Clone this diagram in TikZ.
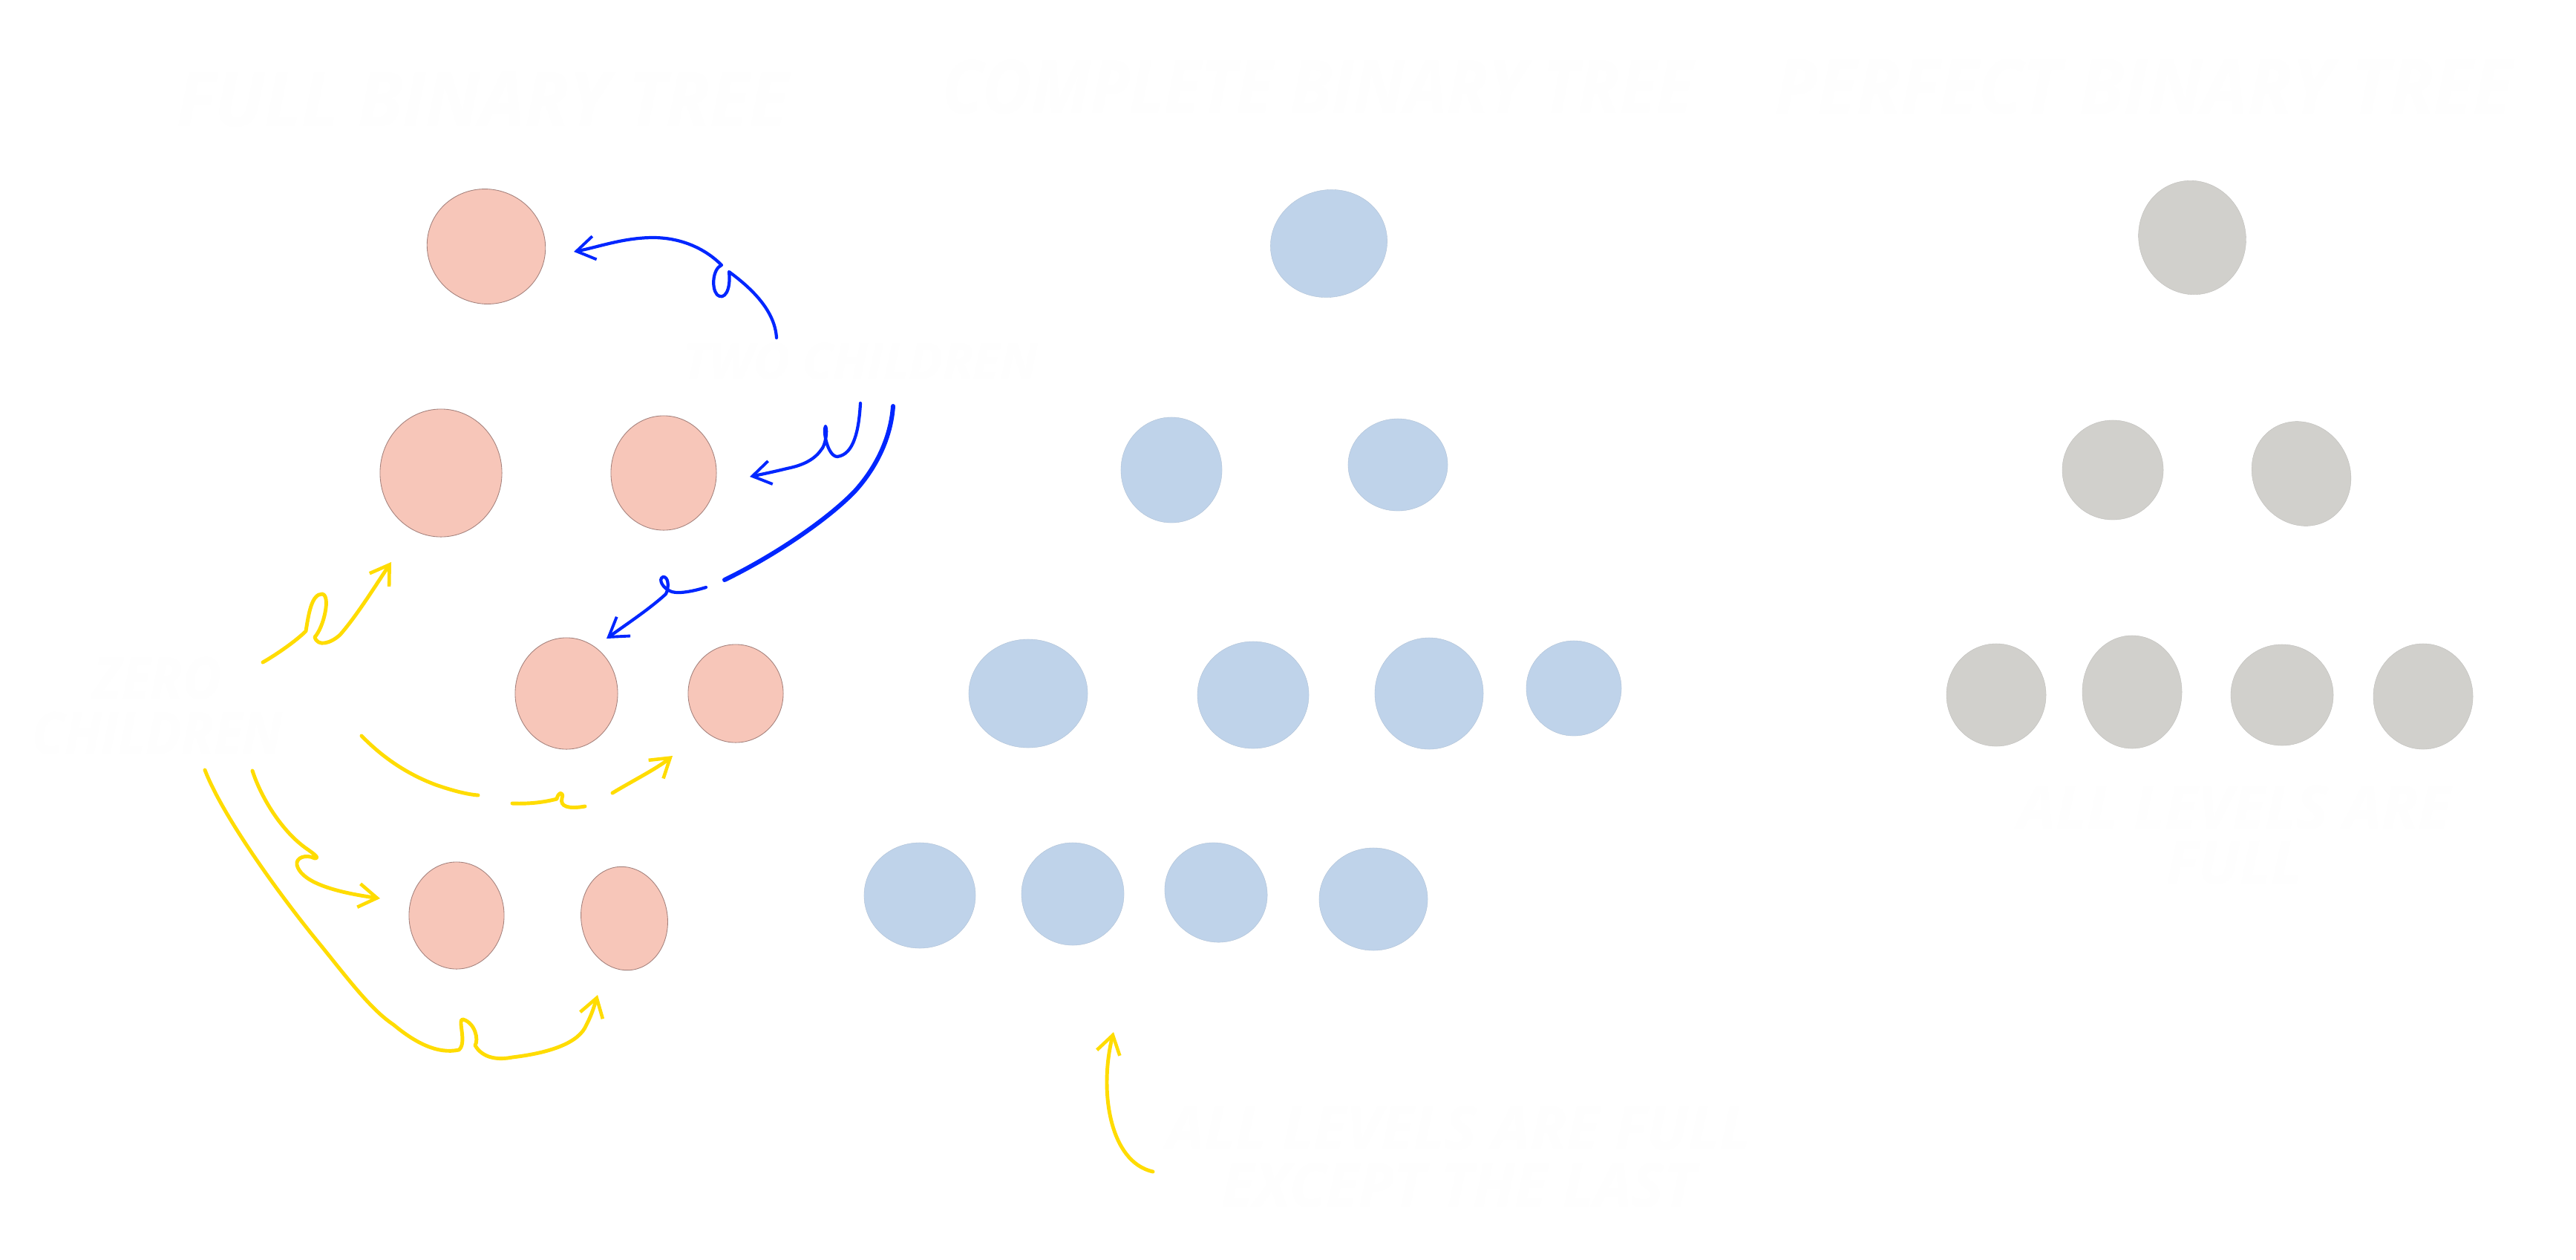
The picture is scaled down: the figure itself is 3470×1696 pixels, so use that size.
\documentclass[tikz,border=0pt]{standalone}
\usepackage{fontspec}
\setmainfont{Open Sans}
\usetikzlibrary{arrows.meta,shapes.geometric}
\definecolor{pinkfill}{RGB}{247,198,185}
\definecolor{pinkline}{RGB}{165,130,125}
\definecolor{bluefill}{RGB}{191,211,234}
\definecolor{grayfill}{RGB}{209,208,204}
\definecolor{penblue}{RGB}{0,38,255}
\definecolor{penyellow}{RGB}{255,220,0}
\definecolor{ghost}{RGB}{254,254,254}
\begin{document}
\begin{tikzpicture}[x=0.01cm,y=-0.01cm,
  sz/.style 2 args={minimum width=#1*0.02cm, minimum height=#2*0.02cm},
  pnode/.style={ellipse, fill=pinkfill, draw=pinkline, line width=0.25pt, inner sep=0pt},
  bnode/.style={ellipse, fill=bluefill, draw=bluefill!90!black, line width=0.1pt, inner sep=0pt},
  gnode/.style={ellipse, fill=grayfill, draw=grayfill!90!black, line width=0.1pt, inner sep=0pt},
  lab/.style={text=ghost, font=\bfseries\itshape, align=center, inner sep=0pt},
  bpen/.style={draw=penblue, line width=1.2pt, line cap=round, line join=round},
  ypen/.style={draw=penyellow, line width=1.4pt, line cap=round, line join=round},
  btip/.style={-{Straight Barb[length=7pt,width=9pt,line width=1.1pt]}},
  ytip/.style={-{Straight Barb[length=7pt,width=9pt,line width=1.3pt]}}
]
\useasboundingbox[fill=white] (0,0) rectangle (3470,1696);

% titles and labels
\node[lab, font=\bfseries\itshape\fontsize{29}{29}\selectfont] (t1) at (650,134) {\scalebox{0.95}[1]{FULL BINARY TREE}};
\node[lab, font=\bfseries\itshape\fontsize{28}{28}\selectfont] (t2) at (1775,117) {\scalebox{0.92}[1]{COMPLETE BINARY TREE}};
\node[lab, font=\bfseries\itshape\fontsize{29}{29}\selectfont] (t3) at (2888,117) {\scalebox{0.955}[1]{PERFECT BINARY TREE}};
\node[lab, font=\bfseries\itshape\fontsize{19}{19}\selectfont] (two) at (1159,487) {TWO CHILDREN};
\node[lab, font=\bfseries\itshape\fontsize{22}{21}\selectfont] (zero) at (212,951) {\scalebox{0.92}[1]{ZERO}\\\scalebox{0.92}[1]{CHILDREN}};
\node[lab, font=\bfseries\itshape\fontsize{23}{22}\selectfont] (allc) at (1965,1558) {ALL LEVELS ARE FULL\\EXCEPT THE LAST};
\node[lab, font=\bfseries\itshape\fontsize{23}{21}\selectfont] (allp) at (3010,1125) {ALL LEVELS ARE\\FULL};

% full binary tree (pink)
\node[pnode, sz={80}{77}, rotate=-20] (P1) at (655,332) {};
\node[pnode, sz={82}{86}] (P2) at (594,637) {};
\node[pnode, sz={71}{77}] (P3) at (894,637) {};
\node[pnode, sz={69}{75}] (P4) at (763,934) {};
\node[pnode, sz={64}{66}] (P5) at (991,934) {};
\node[pnode, sz={64}{72}] (P6) at (615,1233) {};
\node[pnode, sz={58}{70}, rotate=10] (P7) at (841,1237) {};

% complete binary tree (blue)
\node[bnode, sz={79}{72}, rotate=15] (B1) at (1790,328) {};
\node[bnode, sz={68}{71}] (B2) at (1578,633) {};
\node[bnode, sz={67}{62}] (B3) at (1883,626) {};
\node[bnode, sz={80}{73}] (B4) at (1385,934) {};
\node[bnode, sz={75}{72}] (B5) at (1688,936) {};
\node[bnode, sz={73}{75}] (B6) at (1925,934) {};
\node[bnode, sz={64}{64}] (B7) at (2120,927) {};
\node[bnode, sz={75}{71}] (B8) at (1239,1206) {};
\node[bnode, sz={69}{69}] (B9) at (1445,1204) {};
\node[bnode, sz={70}{66}, rotate=-30] (B10) at (1638,1202) {};
\node[bnode, sz={73}{69}] (B11) at (1850,1211) {};

% perfect binary tree (gray)
\node[gnode, sz={72}{77}, rotate=15] (G1) at (2953,320) {};
\node[gnode, sz={68}{67}] (G2) at (2846,633) {};
\node[gnode, sz={65}{72}, rotate=30] (G3) at (3100,638) {};
\node[gnode, sz={67}{69}] (G4) at (2689,936) {};
\node[gnode, sz={67}{76}] (G5) at (2872,932) {};
\node[gnode, sz={69}{68}] (G6) at (3074,936) {};
\node[gnode, sz={67}{71}] (G7) at (3264,938) {};

% blue hand-drawn arrows (two children)
\coordinate (b1s) at (1046,455);
\coordinate (b1e) at (773,339);
\draw[bpen, btip] (b1s) .. controls (1044,420) and (1015,390) .. (982,366)
  .. controls (985,392) and (975,405) .. (966,397)
  .. controls (958,388) and (960,362) .. (972,357)
  .. controls (945,330) and (910,320) .. (880,320)
  .. controls (840,320) and (805,333) .. (b1e);

\coordinate (b2s) at (1159,543);
\coordinate (b2e) at (1010,642);
\draw[bpen, btip] (b2s) .. controls (1157,580) and (1150,612) .. (1128,615)
  .. controls (1115,615) and (1108,580) .. (1112,574)
  .. controls (1115,580) and (1112,600) .. (1106,606)
  .. controls (1095,622) and (1075,628) .. (1060,631)
  .. controls (1040,636) and (1020,640) .. (b2e);

\coordinate (b3s) at (1203,547);
\coordinate (b3m) at (976,781);
\coordinate (b3n) at (951,791);
\coordinate (b3e) at (817,860);
\draw[bpen, line width=1.7pt] (b3s) .. controls (1200,590) and (1180,630) .. (1152,661)
  .. controls (1120,695) and (1050,745) .. (b3m);
\draw[bpen, btip] (b3n) .. controls (935,796) and (915,800) .. (905,797)
  .. controls (893,793) and (886,780) .. (893,777)
  .. controls (900,776) and (902,790) .. (897,800)
  .. controls (875,820) and (845,840) .. (b3e);

% yellow hand-drawn arrows (zero children)
\coordinate (y1s) at (354,892);
\coordinate (y1e) at (527,757);
\draw[ypen, ytip] (y1s) .. controls (375,880) and (400,862) .. (412,850)
  .. controls (416,825) and (420,800) .. (434,800)
  .. controls (446,802) and (436,845) .. (424,858)
  .. controls (428,872) and (446,866) .. (458,855)
  .. controls (480,830) and (505,790) .. (y1e);

\coordinate (y2s) at (487,991);
\coordinate (y2m) at (644,1071);
\coordinate (y2n) at (690,1082);
\coordinate (y2o) at (788,1086);
\coordinate (y2p) at (825,1068);
\coordinate (y2e) at (906,1018);
\draw[ypen] (y2s) .. controls (520,1025) and (555,1045) .. (587,1057)
  .. controls (610,1065) and (630,1070) .. (y2m);
\draw[ypen] (y2n) .. controls (715,1083) and (735,1080) .. (750,1076)
  .. controls (752,1066) and (760,1066) .. (757,1075)
  .. controls (754,1086) and (765,1090) .. (y2o);
\draw[ypen, ytip] (y2p) .. controls (855,1050) and (885,1035) .. (y2e);

\coordinate (y3s) at (340,1038);
\coordinate (y3e) at (512,1210);
\draw[ypen, ytip] (y3s) .. controls (352,1075) and (380,1120) .. (413,1143)
  .. controls (420,1148) and (432,1156) .. (424,1156)
  .. controls (412,1150) and (398,1155) .. (400,1165)
  .. controls (405,1185) and (440,1200) .. (y3e);

\coordinate (y4s) at (276,1037);
\coordinate (y4e) at (805,1340);
\draw[ypen, ytip] (y4s) .. controls (300,1100) and (380,1210) .. (432,1273)
  .. controls (470,1320) and (500,1360) .. (530,1380)
  .. controls (560,1405) and (590,1420) .. (618,1414)
  .. controls (630,1405) and (615,1370) .. (624,1373)
  .. controls (640,1378) and (645,1400) .. (640,1408)
  .. controls (650,1425) and (670,1428) .. (690,1424)
  .. controls (740,1418) and (780,1405) .. (790,1380)
  .. controls (798,1365) and (802,1350) .. (y4e);

% yellow arrow: all levels full except the last
\coordinate (y5s) at (1553,1578);
\coordinate (y5e) at (1500,1390);
\draw[ypen, ytip] (y5s) .. controls (1495,1565) and (1480,1470) .. (y5e);
\end{tikzpicture}
\end{document}
